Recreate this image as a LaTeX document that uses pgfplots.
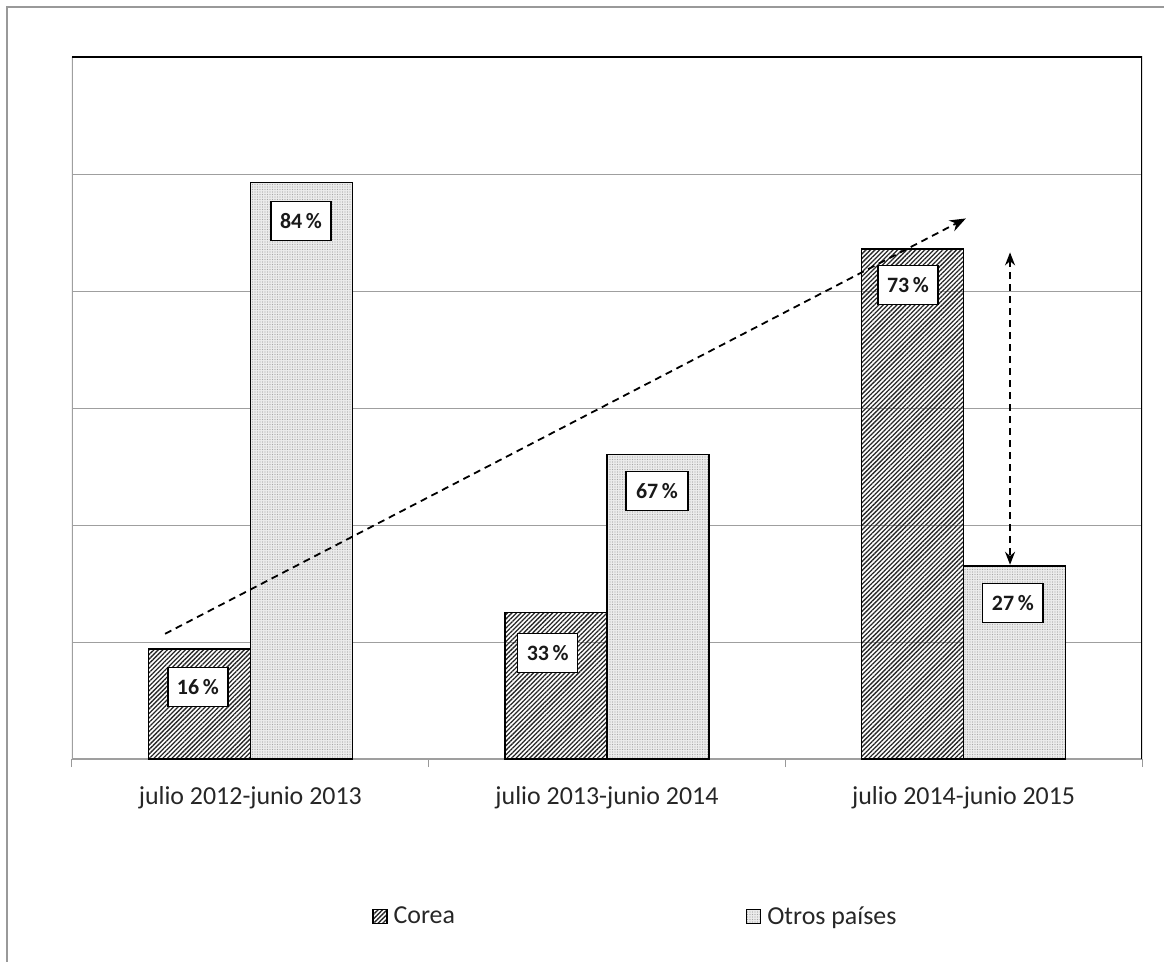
\documentclass[border=0pt]{standalone}
\usepackage{pgfplots}
\pgfplotsset{compat=1.18}
\usepackage{fontspec}
\setmainfont{Carlito}
\usetikzlibrary{patterns,patterns.meta,arrows.meta}

\begin{document}
\begin{tikzpicture}[x=1bp,y=1bp]
\useasboundingbox (-72,-203) rectangle (1092,759);
\draw[gray!80, line width=1.5bp] (-65,-230) rectangle (1120,752);
\begin{axis}[
  at={(0,0)}, anchor=south west,
  scale only axis, width=1070bp, height=702bp,
  xmin=-0.5, xmax=2.5, ymin=0, ymax=6,
  axis line style={draw=none},
  ytick={1,2,3,4,5}, yticklabels={}, ymajorgrids,
  grid style={gray!75, line width=0.9bp},
  y tick style={draw=none},
  xtick pos=bottom,
  xtick={-0.5,0.5,1.5,2.5}, x tick label as interval,
  xticklabels={julio 2012-junio 2013, julio 2013-junio 2014, julio 2014-junio 2015},
  tick align=outside, major tick length=8bp,
  x tick style={gray!80, line width=1bp},
  xticklabel style={font=\fontsize{26}{30}\selectfont, text=black!85, yshift=-16bp},
  legend style={at={(0.527,-0.224)}, anchor=center, draw=none, fill=none,
    font=\fontsize{26}{30}\selectfont, text=black!85, legend columns=2,
    /tikz/every even column/.append style={column sep=288bp}},
  legend cell align=left,
  legend image code/.code={\draw[#1] (0bp,-7bp) rectangle (14bp,7bp);},
  legend style={nodes={inner sep=3bp}},
]
\draw[gray!75, line width=1.3bp] (rel axis cs:0,0) -- (rel axis cs:1,0);
\draw[gray!75, line width=1.3bp] (rel axis cs:0,0) -- (rel axis cs:0,1);
\draw[black, line width=1.3bp] (rel axis cs:0,1) -- (rel axis cs:1,1) -- (rel axis cs:1,0);

\addplot[ybar, bar width=0.286, bar shift=0pt, draw=black, line width=1.3bp,
  pattern={Lines[angle=45,distance=3.2bp,line width=1.3bp]}, pattern color=black!85]
  coordinates {(-0.143,0.94) (0.857,1.25) (1.857,4.36)};
\addlegendentry{\hspace{3bp}Corea}
\addplot[ybar, bar width=0.286, bar shift=0pt, draw=black, line width=1.3bp,
  preaction={fill=gray!15},
  pattern={Dots[distance=2.5bp,radius=0.55bp]}, pattern color=gray!70]
  coordinates {(0.143,4.93) (1.143,2.60) (2.143,1.65)};
\addlegendentry{\hspace{3bp}Otros países}

\addplot[forget plot, black, line width=1.8bp, dash pattern=on 7bp off 5bp,
  -{Stealth[length=16bp,width=12bp]}] coordinates {(-0.239,1.07) (2.006,4.62)};
\addplot[forget plot, black, line width=1.8bp, dash pattern=on 7bp off 5bp,
  {Stealth[length=13bp,width=10bp]}-{Stealth[length=13bp,width=10bp]}] coordinates {(2.130,4.33) (2.130,1.66)};

\tikzset{pct/.style={draw=black, fill=white, line width=1.2bp, minimum width=60bp,
  minimum height=39bp, inner sep=0pt, text=black!90, font=\fontsize{22}{26}\selectfont\bfseries}}
\node[pct] at (axis cs:-0.147,0.615) {16\,\%};
\node[pct] at (axis cs:0.142,4.60) {84\,\%};
\node[pct] at (axis cs:0.834,0.906) {33\,\%};
\node[pct, minimum width=62bp] at (axis cs:1.140,2.29) {67\,\%};
\node[pct] at (axis cs:1.844,4.05) {73\,\%};
\node[pct] at (axis cs:2.138,1.33) {27\,\%};
\end{axis}
\end{tikzpicture}
\end{document}
